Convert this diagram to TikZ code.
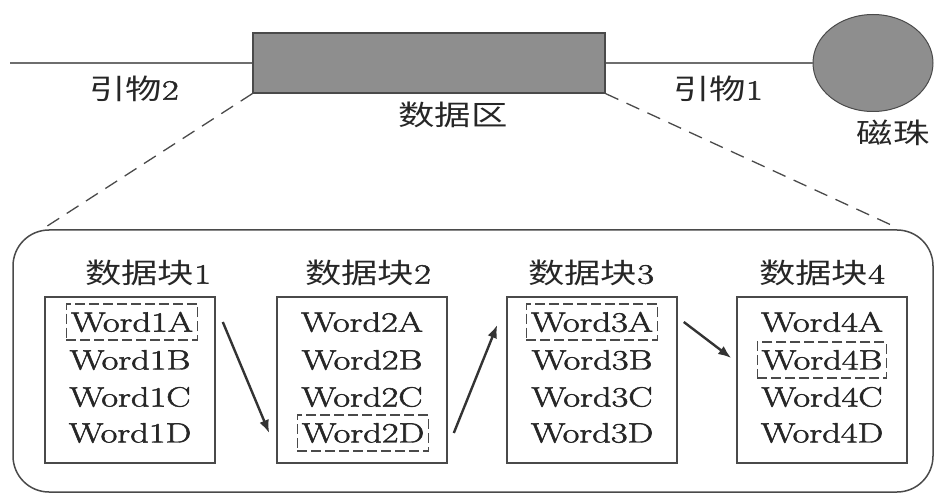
\documentclass[tikz,border=0pt]{standalone}
\usepackage{fontspec}
\usepackage{graphicx}
\newfontfamily\cjk{Noto Sans CJK SC}
\newfontfamily\wfont{Latin Modern Roman}[FakeBold=1.6]
\usetikzlibrary{shapes.geometric,arrows.meta,calc}
\newcommand{\sx}[1]{\scalebox{1.3}[1]{#1}}
\newcommand{\bigtext}{\fontsize{28}{32}\wfont}
\definecolor{ln}{HTML}{4A4A4A}
\definecolor{gfill}{HTML}{8E8E8E}
\begin{document}
\begin{tikzpicture}[x=1pt,y=-1pt,
  lbl/.style={font=\bigtext, inner sep=0pt, text=black!85},
  word/.style={font=\bigtext, inner xsep=4.5pt, inner ysep=8pt, text=black!85},
  hl/.style={word, draw=ln, line width=1.3pt, dash pattern=on 10pt off 4pt},
  blk/.style={draw=ln, line width=1.6pt, minimum width=170, minimum height=166, inner sep=0pt},
  thread/.style={draw=ln!80, line width=1.3pt},
  zoomline/.style={draw=ln, line width=1.3pt, dash pattern=on 14pt off 9pt},
  arr/.style={draw=black!80, line width=2.4pt, -{Latex[length=13pt,width=10pt]}}]
\useasboundingbox (0,0) rectangle (934,494);
% top part
\node[draw=ln, fill=gfill, line width=1.2pt, minimum width=352, minimum height=60, inner sep=0pt] (dz) at (429,63) {};
\node[ellipse, draw=ln, fill=gfill, line width=1pt, minimum width=120, minimum height=97, inner sep=0pt] (bead) at (873,63) {};
\coordinate (L) at (10,63);
\draw[thread] (L) -- (dz.west);
\draw[thread] (dz.east) -- (bead.west);
\node[lbl] (p2) at (134,89) {\sx{{\cjk 引物}2}};
\node[lbl] (dzl) at (453,115) {\sx{\cjk 数据区}};
\node[lbl] (p1) at (718,89) {\sx{{\cjk 引物}1}};
\node[lbl] (bl) at (893,133) {\sx{\cjk 磁珠}};
% panel
\node[draw=ln, line width=1.5pt, rounded corners=36pt, minimum width=920, minimum height=262, inner sep=0pt] (panel) at (473,361) {};
\draw[zoomline] (dz.south west) -- ($(panel.north west)+(30,0)$);
\draw[zoomline] (dz.south east) -- ($(panel.north east)+(-42,-4)$);
% blocks
\node[blk] (b1) at (130,380) {};
\node[blk] (b2) at (362,380) {};
\node[blk] (b3) at (592,380) {};
\node[blk] (b4) at (822,380) {};
\node[lbl] (t1) at (148,273) {\sx{{\cjk 数据块}1}};
\node[lbl] (t2) at (368,273) {\sx{{\cjk 数据块}2}};
\node[lbl] (t3) at (591,273) {\sx{{\cjk 数据块}3}};
\node[lbl] (t4) at (822,273) {\sx{{\cjk 数据块}4}};
% words
\node[hl]   (w1a) at (132,322) {\sx{Word1A}};
\node[word] (w1b) at (130,360) {\sx{Word1B}};
\node[word] (w1c) at (130,397) {\sx{Word1C}};
\node[word] (w1d) at (130,433) {\sx{Word1D}};
\node[word] (w2a) at (362,322) {\sx{Word2A}};
\node[word] (w2b) at (362,360) {\sx{Word2B}};
\node[word] (w2c) at (362,397) {\sx{Word2C}};
\node[hl]   (w2d) at (363,433) {\sx{Word2D}};
\node[hl]   (w3a) at (592,322) {\sx{Word3A}};
\node[word] (w3b) at (592,360) {\sx{Word3B}};
\node[word] (w3c) at (592,397) {\sx{Word3C}};
\node[word] (w3d) at (592,433) {\sx{Word3D}};
\node[word] (w4a) at (822,322) {\sx{Word4A}};
\node[hl]   (w4b) at (822,360) {\sx{Word4B}};
\node[word] (w4c) at (822,397) {\sx{Word4C}};
\node[word] (w4d) at (822,433) {\sx{Word4D}};
% arrows
\draw[arr] ($(b1.east |- w1a)+(7,0)$) -- ($(b2.west |- w2d)+(-7,0)$);
\draw[arr] ($(b2.east |- w2d)+(6,0)$) -- ($(b3.west |- w3a)+(-9,3)$);
\draw[arr] ($(b3.east |- w3a)+(6,0)$) -- ($(b4.west |- w4b)+(-5,-2)$);
\end{tikzpicture}
\end{document}
